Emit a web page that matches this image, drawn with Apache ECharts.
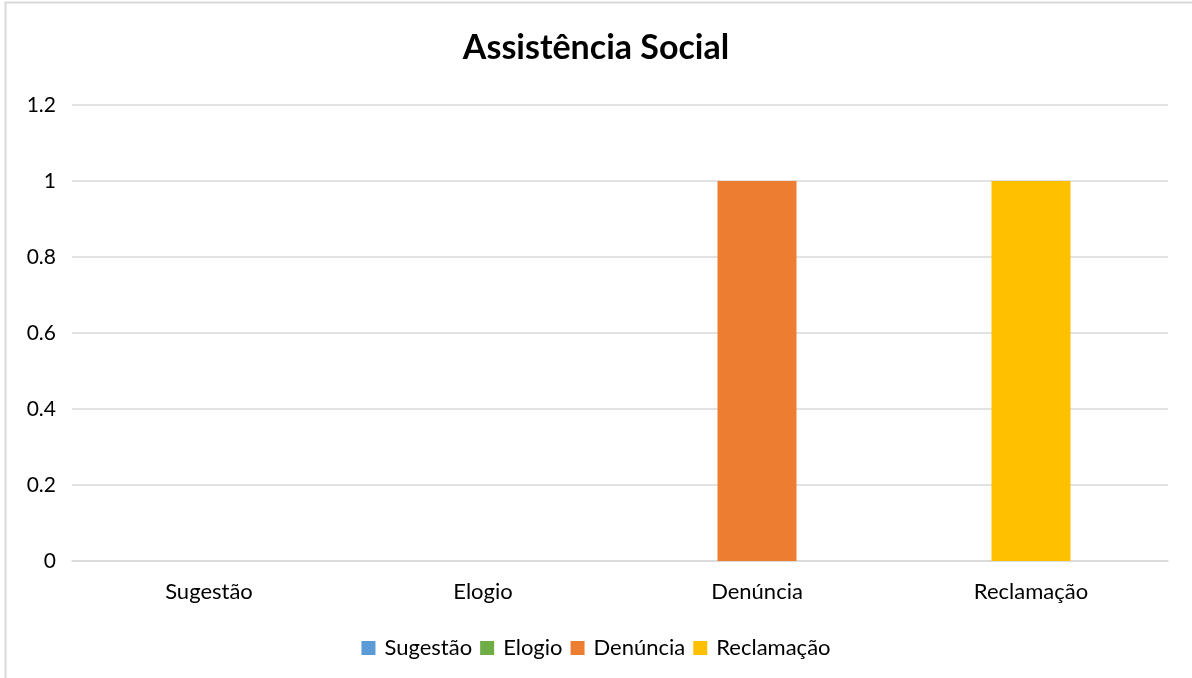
<!DOCTYPE html>
<html>
<head>
<meta charset="utf-8">
<script src="https://cdn.jsdelivr.net/npm/echarts@6/dist/echarts.min.js"></script>
<style>
html,body{margin:0;padding:0;background:#fff;}
#chart{width:1192px;height:678px;}
</style>
</head>
<body>
<div id="chart"></div>
<script>
const title = 'Assistência Social';
const categories = ['Sugestão', 'Elogio', 'Denúncia', 'Reclamação'];
const seriesNames = ['Sugestão', 'Elogio', 'Denúncia', 'Reclamação'];
const seriesValues = [
  [0, null, null, null],
  [null, 0, null, null],
  [null, null, 1, null],
  [null, null, null, 1]
];
const colors = ['#5B9BD5', '#70AD47', '#ED7D31', '#FFC000'];
const yTicks = [0, 0.2, 0.4, 0.6, 0.8, 1, 1.2];

const font = 'Lato, "Open Sans", sans-serif';
const chart = echarts.init(document.getElementById('chart'));
chart.setOption({
  animation: false,
  color: colors,
  graphic: [{
    type: 'rect',
    shape: { x: 5.5, y: 2.5, width: 1200, height: 700 },
    style: { fill: 'none', stroke: '#D9D9D9', lineWidth: 2 },
    silent: true
  }],
  title: {
    text: title,
    left: 'center',
    top: 26,
    textStyle: { fontFamily: font, fontSize: 34, fontWeight: 'bold', color: '#000' }
  },
  legend: {
    bottom: 14,
    left: 'center',
    itemWidth: 14,
    itemHeight: 14,
    itemGap: 8,
    icon: 'rect',
    textStyle: { fontFamily: font, fontSize: 22, color: '#000', padding: [0, 0, 0, 4] },
    data: seriesNames
  },
  grid: { left: 72, right: 24, top: 105, bottom: 117, containLabel: false },
  xAxis: {
    type: 'category',
    data: categories,
    axisLine: { show: true, lineStyle: { color: '#D9D9D9', width: 1.5 } },
    axisTick: { show: false },
    axisLabel: { fontFamily: font, fontSize: 22, color: '#000', margin: 20 }
  },
  yAxis: {
    type: 'value',
    min: yTicks[0],
    max: yTicks[yTicks.length - 1],
    interval: 0.2,
    axisLine: { show: false },
    axisTick: { show: false },
    splitLine: { lineStyle: { color: '#D9D9D9', width: 1.5 } },
    axisLabel: { fontFamily: font, fontSize: 21, color: '#000', margin: 16,
      formatter: v => String(Math.round(v * 10) / 10) }
  },
  series: seriesNames.map((name, i) => ({
    name: name,
    type: 'bar',
    stack: 'total',
    barWidth: 79,
    data: seriesValues[i],
    itemStyle: { color: colors[i] }
  }))
});
</script>
</body>
</html>
